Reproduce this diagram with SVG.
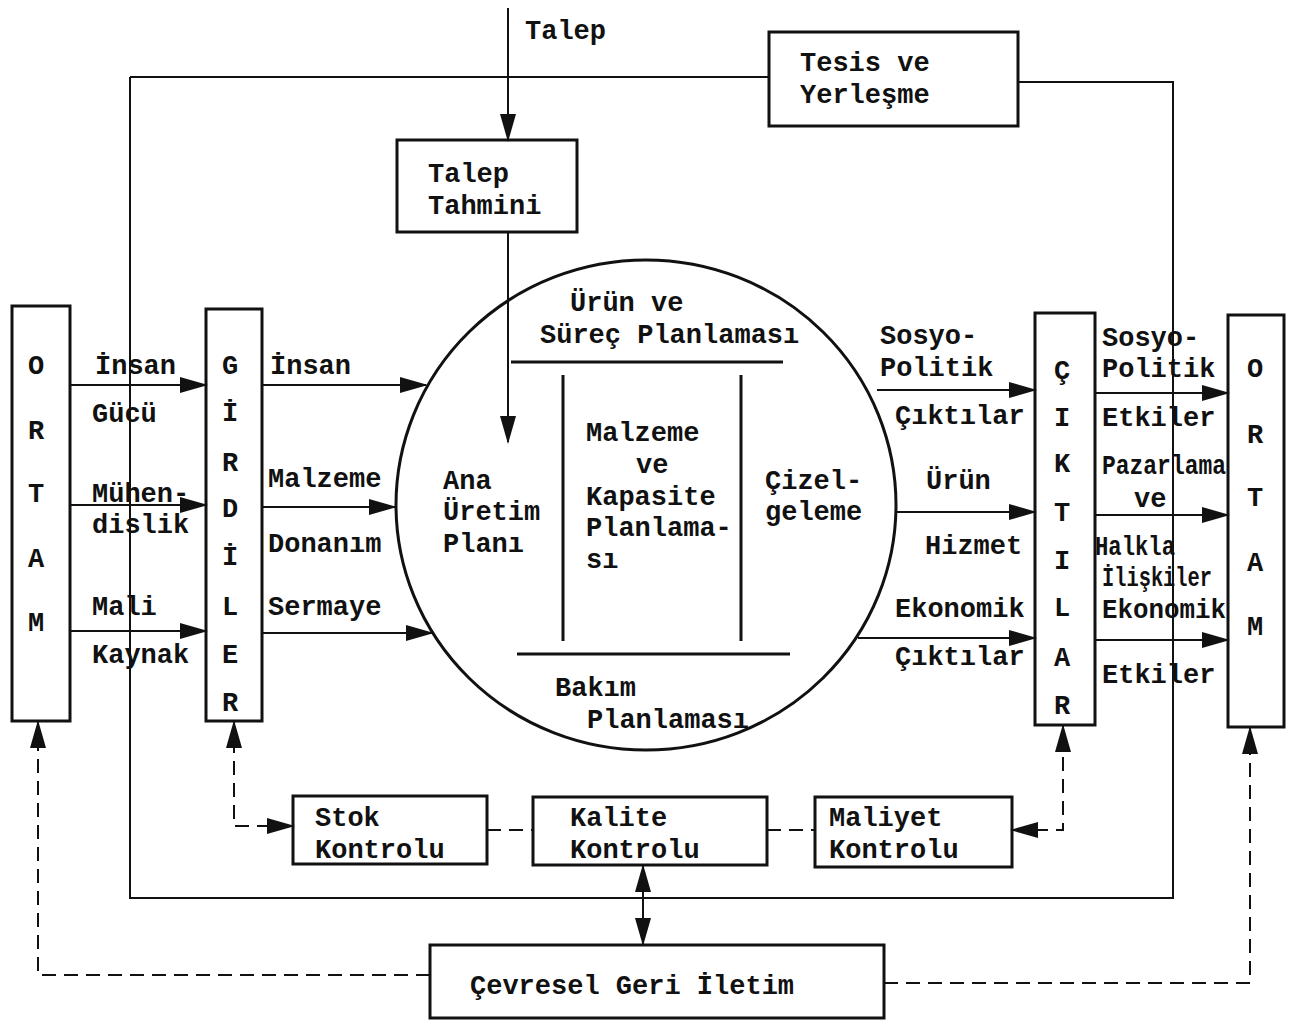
<svg xmlns="http://www.w3.org/2000/svg" width="1294" height="1020" viewBox="0 0 1294 1020">
<style>
text{font-family:"Liberation Mono","DejaVu Sans Mono",monospace;font-size:27px;font-weight:bold;fill:#111}
.box{fill:none;stroke:#111;stroke-width:3}
.ln{fill:none;stroke:#111;stroke-width:2}
.dash{fill:none;stroke:#111;stroke-width:2;stroke-dasharray:14,8}
.mid{text-anchor:middle}
</style>
<defs>
<marker id="ah" markerUnits="userSpaceOnUse" markerWidth="28" markerHeight="16" refX="26" refY="8" orient="auto-start-reverse" viewBox="0 0 28 16">
<path d="M0,0 L28,8 L0,16 z" fill="#111"/>
</marker>
</defs>
<rect width="1294" height="1020" fill="#fff"/>

<g id="connectors">
<path class="ln" d="M130,77 L769,77 M1018,82 L1173,82 L1173,898 L130,898 L130,77"/>
<line class="ln" x1="508" y1="8" x2="508" y2="140" marker-end="url(#ah)"/>
<line class="ln" x1="508" y1="232" x2="508" y2="442" marker-end="url(#ah)"/>
<line class="ln" x1="70" y1="385" x2="206" y2="385" marker-end="url(#ah)"/>
<line class="ln" x1="70" y1="505" x2="206" y2="505" marker-end="url(#ah)"/>
<line class="ln" x1="70" y1="631" x2="206" y2="631" marker-end="url(#ah)"/>
<line class="ln" x1="262" y1="385" x2="426" y2="385" marker-end="url(#ah)"/>
<line class="ln" x1="262" y1="507" x2="395" y2="507" marker-end="url(#ah)"/>
<line class="ln" x1="262" y1="633" x2="432" y2="633" marker-end="url(#ah)"/>
<line class="ln" x1="877" y1="390" x2="1035" y2="390" marker-end="url(#ah)"/>
<line class="ln" x1="897" y1="512" x2="1035" y2="512" marker-end="url(#ah)"/>
<line class="ln" x1="858" y1="638" x2="1035" y2="638" marker-end="url(#ah)"/>
<line class="ln" x1="1095" y1="393" x2="1228" y2="393" marker-end="url(#ah)"/>
<line class="ln" x1="1095" y1="515" x2="1228" y2="515" marker-end="url(#ah)"/>
<line class="ln" x1="1095" y1="640" x2="1228" y2="640" marker-end="url(#ah)"/>
<path class="dash" d="M293,826 L234,826 L234,722" marker-start="url(#ah)" marker-end="url(#ah)"/>
<path class="dash" d="M1012,830 L1063,830 L1063,726" marker-start="url(#ah)" marker-end="url(#ah)"/>
<line class="dash" x1="487" y1="830" x2="533" y2="830"/>
<line class="dash" x1="767" y1="830" x2="815" y2="830"/>
<line class="ln" x1="643" y1="866" x2="643" y2="944" marker-start="url(#ah)" marker-end="url(#ah)"/>
<path class="dash" d="M430,975 L38,975 L38,722" marker-end="url(#ah)"/>
<path class="dash" d="M884,983 L1250,983 L1250,728" marker-end="url(#ah)"/>
</g>
<text x="525" y="39">Talep</text>

<g id="talep-tahmini">
<rect class="box" x="397" y="140" width="180" height="92"/>
<text x="428" y="182">Talep</text>
<text x="428" y="214">Tahmini</text>
</g>

<g id="tesis">
<rect class="box" x="769" y="32" width="249" height="94"/>
<text x="800" y="71">Tesis ve</text>
<text x="800" y="103">Yerleşme</text>
</g>

<g id="planlama">
<ellipse cx="646" cy="505" rx="250" ry="245" fill="none" stroke="#111" stroke-width="3"/>
<text x="570" y="311">Ürün ve</text>
<text x="540" y="343">Süreç Planlaması</text>
<line class="box" x1="511" y1="362" x2="783" y2="362"/>
<line class="box" x1="563" y1="375" x2="563" y2="641"/>
<line class="box" x1="741" y1="375" x2="741" y2="641"/>
<line class="box" x1="517" y1="654" x2="790" y2="654"/>
<text x="443" y="489">Ana</text>
<text x="443" y="520">Üretim</text>
<text x="443" y="552">Planı</text>
<text x="586" y="441">Malzeme</text>
<text x="636" y="473">ve</text>
<text x="586" y="505">Kapasite</text>
<text x="586" y="536">Planlama-</text>
<text x="586" y="568">sı</text>
<text x="765" y="489">Çizel-</text>
<text x="765" y="520">geleme</text>
<text x="555" y="696">Bakım</text>
<text x="587" y="728">Planlaması</text>
</g>

<g id="ortam-sol">
<rect class="box" x="12" y="306" width="58" height="415"/>
<text class="mid" x="36" y="374">O</text>
<text class="mid" x="36" y="439">R</text>
<text class="mid" x="36" y="502">T</text>
<text class="mid" x="36" y="567">A</text>
<text class="mid" x="36" y="631">M</text>
</g>
<text x="95" y="374">İnsan</text>
<text x="92" y="422">Gücü</text>
<text x="92" y="502">Mühen-</text>
<text x="92" y="533">dislik</text>
<text x="92" y="615">Mali</text>
<text x="92" y="663">Kaynak</text>

<g id="girdiler">
<rect class="box" x="206" y="309" width="56" height="412"/>
<text class="mid" x="230" y="374">G</text>
<text class="mid" x="230" y="421">İ</text>
<text class="mid" x="230" y="471">R</text>
<text class="mid" x="230" y="517">D</text>
<text class="mid" x="230" y="565">İ</text>
<text class="mid" x="230" y="615">L</text>
<text class="mid" x="230" y="663">E</text>
<text class="mid" x="230" y="711">R</text>
</g>
<text x="270" y="374">İnsan</text>
<text x="268" y="487">Malzeme</text>
<text x="268" y="552">Donanım</text>
<text x="268" y="615">Sermaye</text>

<text x="880" y="344">Sosyo-</text>
<text x="880" y="376">Politik</text>
<text x="895" y="424">Çıktılar</text>
<text x="926" y="489">Ürün</text>
<text x="925" y="554">Hizmet</text>
<text x="895" y="617">Ekonomik</text>
<text x="895" y="665">Çıktılar</text>

<g id="ciktilar">
<rect class="box" x="1035" y="313" width="60" height="412"/>
<text class="mid" x="1062" y="379">Ç</text>
<text class="mid" x="1062" y="426">I</text>
<text class="mid" x="1062" y="472">K</text>
<text class="mid" x="1062" y="521">T</text>
<text class="mid" x="1062" y="569">I</text>
<text class="mid" x="1062" y="616">L</text>
<text class="mid" x="1062" y="666">A</text>
<text class="mid" x="1062" y="714">R</text>
</g>
<text x="1102" y="346">Sosyo-</text>
<text x="1102" y="377">Politik</text>
<text x="1102" y="426">Etkiler</text>
<text x="1102" y="474" textLength="124" lengthAdjust="spacingAndGlyphs">Pazarlama</text>
<text x="1134" y="507">ve</text>
<text x="1095" y="555" textLength="80" lengthAdjust="spacingAndGlyphs">Halkla</text>
<text x="1102" y="586" textLength="110" lengthAdjust="spacingAndGlyphs">İlişkiler</text>
<text x="1102" y="618" textLength="124" lengthAdjust="spacingAndGlyphs">Ekonomik</text>
<text x="1102" y="683">Etkiler</text>

<g id="ortam-sag">
<rect class="box" x="1228" y="315" width="56" height="412"/>
<text class="mid" x="1255" y="377">O</text>
<text class="mid" x="1255" y="443">R</text>
<text class="mid" x="1255" y="506">T</text>
<text class="mid" x="1255" y="571">A</text>
<text class="mid" x="1255" y="635">M</text>
</g>

<g id="stok">
<rect class="box" x="293" y="796" width="194" height="68"/>
<text x="315" y="826">Stok</text>
<text x="315" y="858">Kontrolu</text>
</g>
<g id="kalite">
<rect class="box" x="533" y="797" width="234" height="68"/>
<text x="570" y="826">Kalite</text>
<text x="570" y="858">Kontrolu</text>
</g>
<g id="maliyet">
<rect class="box" x="815" y="797" width="197" height="70"/>
<text x="829" y="826">Maliyet</text>
<text x="829" y="858">Kontrolu</text>
</g>
<g id="cevresel">
<rect class="box" x="430" y="945" width="454" height="73"/>
<text x="470" y="994">Çevresel Geri İletim</text>
</g>
</svg>
